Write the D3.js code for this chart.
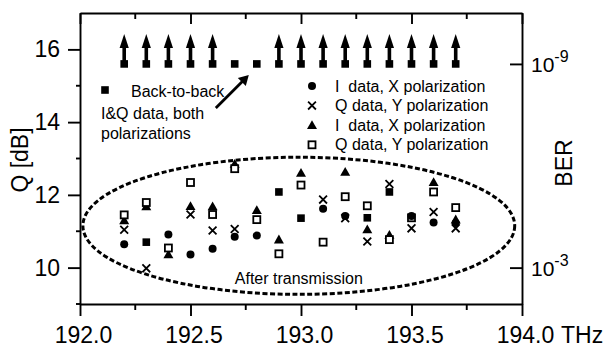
<!DOCTYPE html>
<html>
<head>
<meta charset="utf-8">
<script src="https://cdn.jsdelivr.net/npm/d3@7"></script>
<style>
  body { margin: 0; background: #fff; }
  svg text { font-family: "Liberation Sans", Arial, sans-serif; fill: #000; }
</style>
</head>
<body>
<div id="chart"></div>
<script>
// channel frequencies (THz)
var freqs = [192.2, 192.3, 192.4, 192.5, 192.6, 192.7, 192.8, 192.9, 193.0, 193.1, 193.2, 193.3, 193.4, 193.5, 193.6, 193.7];

// back-to-back Q (dB), arrow = error free
var b2bQ = [15.6, 15.6, 15.6, 15.6, 15.6, 15.6, 15.6, 15.6, 15.6, 15.6, 15.6, 15.6, 15.6, 15.6, 15.6, 15.6];
var b2bArrow = [1, 1, 1, 1, 1, 0, 0, 1, 1, 1, 1, 1, 1, 1, 1, 1];

// after transmission Q (dB)
var qCircle = [10.64, null, 10.91, 10.36, 10.52, 10.85, 10.88, null, null, 11.62, 11.42, null, null, 11.42, 11.24, 11.23];
var qCross = [11.04, 9.98, null, 11.46, 11.02, 11.06, null, null, null, 11.87, 11.36, 10.72, 12.3, 11.08, 11.53, 11.08];
var qTriangle = [11.3, 11.68, 10.36, 11.69, 11.68, 12.85, 11.58, 10.77, 12.6, null, 12.63, 11.05, 10.9, null, 12.35, 11.32];
var qOpenSq = [11.45, 11.79, 10.54, 12.34, 11.46, 12.72, 11.32, 10.38, 12.27, 10.7, 11.95, 11.7, 10.77, 11.37, 12.08, 11.65];
var qFilledSq = [null, 10.7, null, null, null, null, null, 12.08, 11.36, null, null, 11.37, 12.08, null, null, null];

// axis ticks
var xMajor = [192.0, 192.5, 193.0, 193.5, 194.0];
var xMinor = [192.25, 192.75, 193.25, 193.75];
var yMajor = [10, 12, 14, 16];
var yMinor = [9, 11, 13, 15];
var berTicks = [{ exp: "-3", q: 10.0 }, { exp: "-9", q: 15.6 }];

// legend entries
var legendLabels = ["I  data, X polarization", "Q data, Y polarization", "I  data, X polarization", "Q data, Y polarization"];
var legendShapes = ["circle", "cross", "triangle", "opensq"];

// dashed region (centre and half widths in data units)
var region = { f: 192.99, q: 11.15, df: 0.977, dq: 1.885 };

var width = 606, height = 347;
var x0 = 80, x1 = 522, yTop = 13, yBot = 304;

var svg = d3.select("#chart").append("svg")
    .attr("width", width)
    .attr("height", height);

var x = d3.scaleLinear().domain([192, 194]).range([x0, x1]);
var y = d3.scaleLinear().domain([9, 17]).range([yBot, yTop]);

//Axes
var axisW = 1.9;

var gBottom = svg.append("g").attr("transform", "translate(0," + yBot + ")");
gBottom.call(d3.axisBottom(x).tickValues(xMajor).tickSize(12).tickSizeOuter(0)
    .tickFormat(function (d) { return d.toFixed(1); }));
gBottom.selectAll(".tick text").attr("font-size", 23).attr("dy", "1.05em").attr("dx", 3);
gBottom.append("g").selectAll("line").data(xMinor).enter().append("line")
    .attr("x1", x).attr("x2", x).attr("y1", 0).attr("y2", 6);
gBottom.append("text").attr("x", x(194) + 39).attr("y", 39)
    .attr("font-size", 23).attr("text-anchor", "start").text("THz");

var gTop = svg.append("g").attr("transform", "translate(0," + yTop + ")");
gTop.call(d3.axisTop(x).tickValues(xMajor).tickSize(-11).tickSizeOuter(0).tickFormat(""));
gTop.append("g").selectAll("line").data(xMinor).enter().append("line")
    .attr("x1", x).attr("x2", x).attr("y1", 0).attr("y2", 6);

var gLeft = svg.append("g").attr("transform", "translate(" + x0 + ",0)");
gLeft.call(d3.axisLeft(y).tickValues(yMajor).tickSize(12).tickSizeOuter(0));
gLeft.selectAll(".tick text").attr("font-size", 23).attr("dx", -5);
gLeft.append("g").selectAll("line").data(yMinor).enter().append("line")
    .attr("y1", y).attr("y2", y).attr("x1", 0).attr("x2", -4);

var gRight = svg.append("g").attr("transform", "translate(" + x1 + ",0)");
gRight.call(d3.axisRight(y).tickValues(berTicks.map(function (d) { return d.q; }))
    .tickSize(-12).tickSizeOuter(0).tickFormat(""));
var berLab = gRight.append("g").selectAll("text").data(berTicks).enter().append("text")
    .attr("x", 9).attr("y", function (d) { return y(d.q) + 8; })
    .attr("font-size", 21);
berLab.append("tspan").text("10");
berLab.append("tspan").attr("font-size", 16).attr("dy", -10).text(function (d) { return d.exp; });

svg.selectAll(".domain").attr("stroke", "#000").attr("stroke-width", axisW);
svg.selectAll("g line").attr("stroke", "#000").attr("stroke-width", axisW);

svg.append("text")
    .attr("transform", "translate(28," + 160 + ") rotate(-90)")
    .attr("text-anchor", "middle").attr("font-size", 23).text("Q [dB]");
svg.append("text")
    .attr("transform", "translate(572," + 163 + ") rotate(-90)")
    .attr("text-anchor", "middle").attr("font-size", 23).text("BER");

//Marker drawing
function drawMarker(g, shape, cx, cy) {
    if (shape == "circle") {
        g.append("circle").attr("cx", cx).attr("cy", cy).attr("r", 4).attr("fill", "#000");
    } else if (shape == "cross") {
        g.append("path").attr("d", "M" + (cx - 3.9) + "," + (cy - 3.9) + "L" + (cx + 3.9) + "," + (cy + 3.9) +
            "M" + (cx - 3.9) + "," + (cy + 3.9) + "L" + (cx + 3.9) + "," + (cy - 3.9))
            .attr("stroke", "#000").attr("stroke-width", 1.8).attr("fill", "none");
    } else if (shape == "triangle") {
        g.append("path").attr("d", "M" + cx + "," + (cy - 5) + "L" + (cx + 5) + "," + (cy + 3.8) +
            "L" + (cx - 5) + "," + (cy + 3.8) + "Z").attr("fill", "#000");
    } else if (shape == "opensq") {
        g.append("rect").attr("x", cx - 3.5).attr("y", cy - 3.5).attr("width", 7).attr("height", 7)
            .attr("fill", "#fff").attr("stroke", "#000").attr("stroke-width", 1.8);
    } else if (shape == "filledsq") {
        g.append("rect").attr("x", cx - 3.8).attr("y", cy - 3.8).attr("width", 7.6).attr("height", 7.6)
            .attr("fill", "#000");
    }
}

//Dashed region
svg.append("ellipse")
    .attr("cx", x(region.f)).attr("cy", y(region.q))
    .attr("rx", x(region.f + region.df) - x(region.f))
    .attr("ry", y(region.q - region.dq) - y(region.q))
    .attr("fill", "none").attr("stroke", "#000")
    .attr("stroke-width", 3).attr("stroke-dasharray", "5,2.5");

//Data
var marks = svg.append("g");
var series = [
    { shape: "triangle", values: qTriangle },
    { shape: "opensq", values: qOpenSq },
    { shape: "filledsq", values: qFilledSq },
    { shape: "circle", values: qCircle },
    { shape: "cross", values: qCross }
];
series.forEach(function (s) {
    s.values.forEach(function (v, i) {
        if (v != null) drawMarker(marks, s.shape, x(freqs[i]), y(v));
    });
});

//Back-to-back with arrows
var b2b = svg.append("g");
freqs.forEach(function (f, i) {
    var cx = x(f), cy = y(b2bQ[i]);
    if (b2bArrow[i]) {
        b2b.append("line").attr("x1", cx).attr("x2", cx).attr("y1", cy).attr("y2", cy - 18)
            .attr("stroke", "#000").attr("stroke-width", 3.6);
        b2b.append("path").attr("d", "M" + cx + "," + (cy - 30) + "L" + (cx + 4.6) + "," + (cy - 16) +
            "L" + (cx - 4.6) + "," + (cy - 16) + "Z").attr("fill", "#000");
    }
    drawMarker(b2b, "filledsq", cx, cy);
});

//Annotations
var tipX = x(192.8) - 8, tipY = y(15.6) + 11;
var tailX = tipX - 33, tailY = tipY + 33;
svg.append("line").attr("x1", tailX).attr("y1", tailY).attr("x2", tipX - 4).attr("y2", tipY + 4)
    .attr("stroke", "#000").attr("stroke-width", 2.8);
svg.append("path").attr("d", "M" + tipX + "," + tipY + "L" + (tipX - 11) + "," + (tipY + 3) +
    "L" + (tipX - 3) + "," + (tipY + 11) + "Z").attr("fill", "#000");

drawMarker(svg, "filledsq", 105, 90);
svg.append("text").attr("x", 131).attr("y", 97).attr("font-size", 16).text("Back-to-back");
svg.append("text").attr("x", 101).attr("y", 118.5).attr("font-size", 16).text("I&Q data, both");
svg.append("text").attr("x", 101).attr("y", 138.5).attr("font-size", 16).text("polarizations");

var legend = svg.append("g");
legendLabels.forEach(function (t, i) {
    var cy = 86 + i * 19.6;
    drawMarker(legend, legendShapes[i], 312, cy);
    legend.append("text").attr("x", 335).attr("y", cy + 5.5).attr("font-size", 16)
        .style("white-space", "pre").text(t);
});

svg.append("text").attr("x", x(192.99)).attr("y", 284).attr("text-anchor", "middle")
    .attr("font-size", 16).text("After transmission");
</script>
</body>
</html>
